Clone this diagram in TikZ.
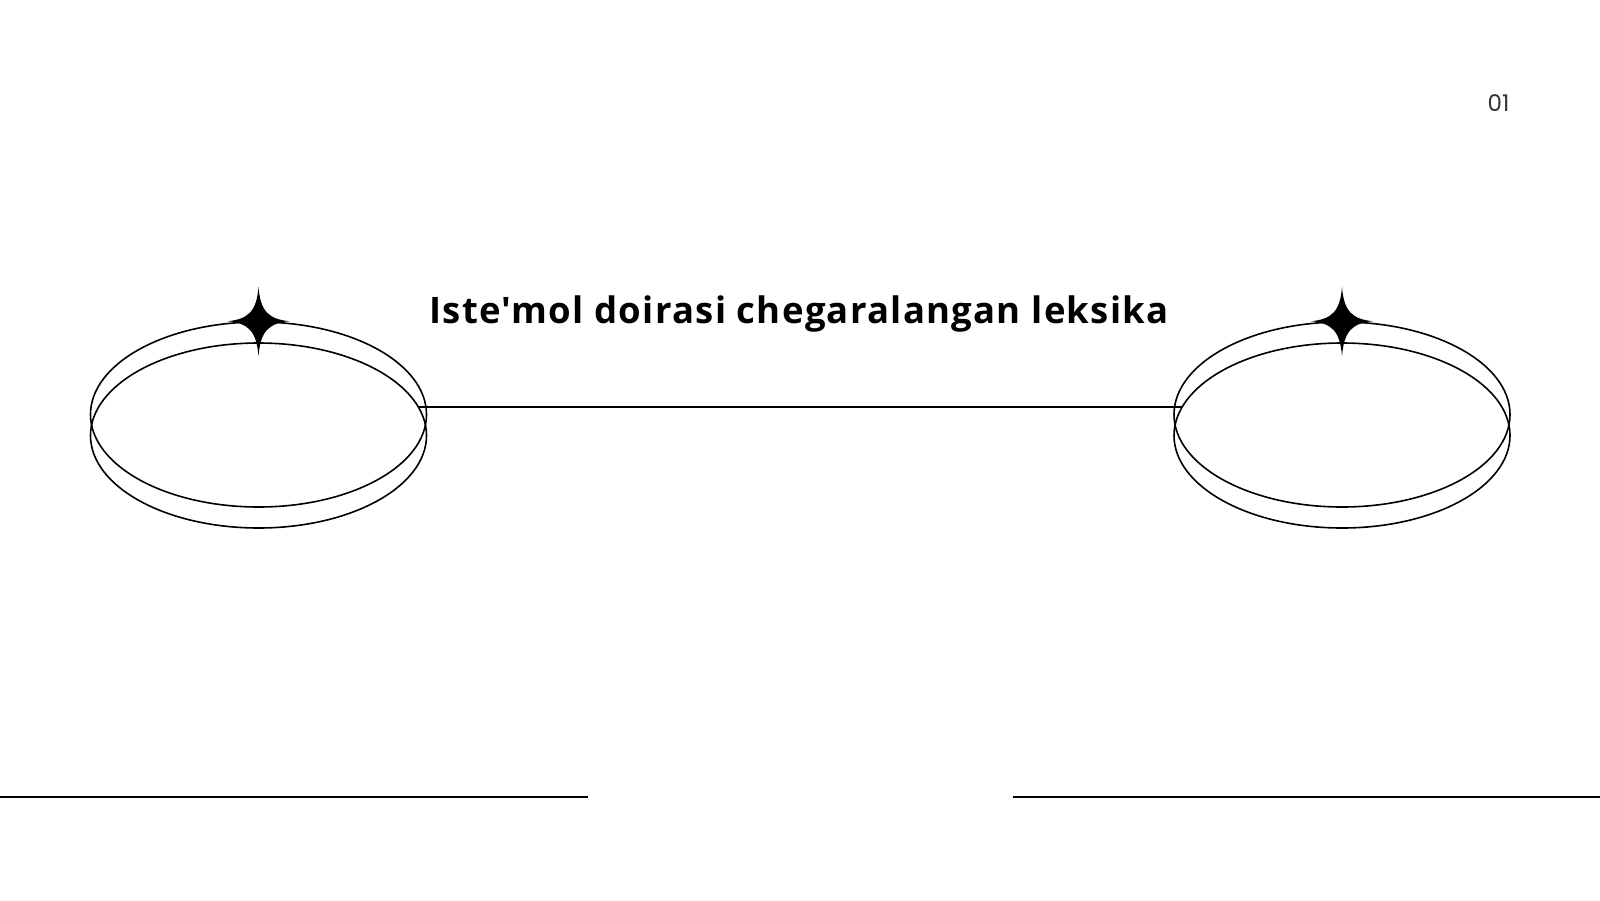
\documentclass[tikz,border=0pt]{standalone}
\usepackage{fontspec}
\setmainfont{Open Sans}[Ligatures=TeXOff]
\newfontfamily\titlefont{Open Sans}[Ligatures=TeXOff, LetterSpace=3.5]
\newfontfamily\numfont{Poppins}
\usetikzlibrary{shapes.geometric}
\definecolor{numgray}{HTML}{333333}
\tikzset{
  ring/.style={draw=black, ellipse, line width=1.6pt, minimum width=336pt, minimum height=185pt, inner sep=0pt},
  link/.style={draw=black, line width=1.6pt},
  baseline rule/.style={draw=black, line width=1.8pt},
  sparkle/.pic={
    \fill[black] (0,-34) .. controls (2,-10) and (10,-2) .. (31,0)
      .. controls (10,2) and (2,10) .. (0,35)
      .. controls (-2,10) and (-10,2) .. (-31,0)
      .. controls (-10,-2) and (-2,-10) .. cycle;
  }
}
\begin{document}
\begin{tikzpicture}[x=1pt,y=-1pt]
\useasboundingbox (0,0) rectangle (1600,900);
\fill[white] (0,0) rectangle (1600,900);
% left ring pair
\node[ring] (La) at (258.5,414.5) {};
\node[ring] (Lb) at (258.5,435.5) {};
% right ring pair
\node[ring] (Ra) at (1342,414.5) {};
\node[ring] (Rb) at (1342,435.5) {};
% connector ends on the lower rings
\coordinate (linkL) at (418,407);
\coordinate (linkR) at (1182,407);
\draw[link] (linkL) -- (linkR);
% sparkles
\pic at (La.north) {sparkle};
\pic at (Ra.north) {sparkle};
% title
\node[anchor=base, font=\titlefont\fontsize{36.5}{44}\selectfont\bfseries] (title) at (799,323) {Iste'mol doirasi chegaralangan leksika};
% page number
\node[anchor=base, text=numgray, font=\numfont\fontsize{23}{28}\selectfont] (num) at (1498.5,111) {01};
% bottom rules
\coordinate (bl1) at (0,797);
\coordinate (bl2) at (588,797);
\coordinate (br1) at (1013,797);
\coordinate (br2) at (1600,797);
\draw[baseline rule] (bl1) -- (bl2);
\draw[baseline rule] (br1) -- (br2);
\end{tikzpicture}
\end{document}
